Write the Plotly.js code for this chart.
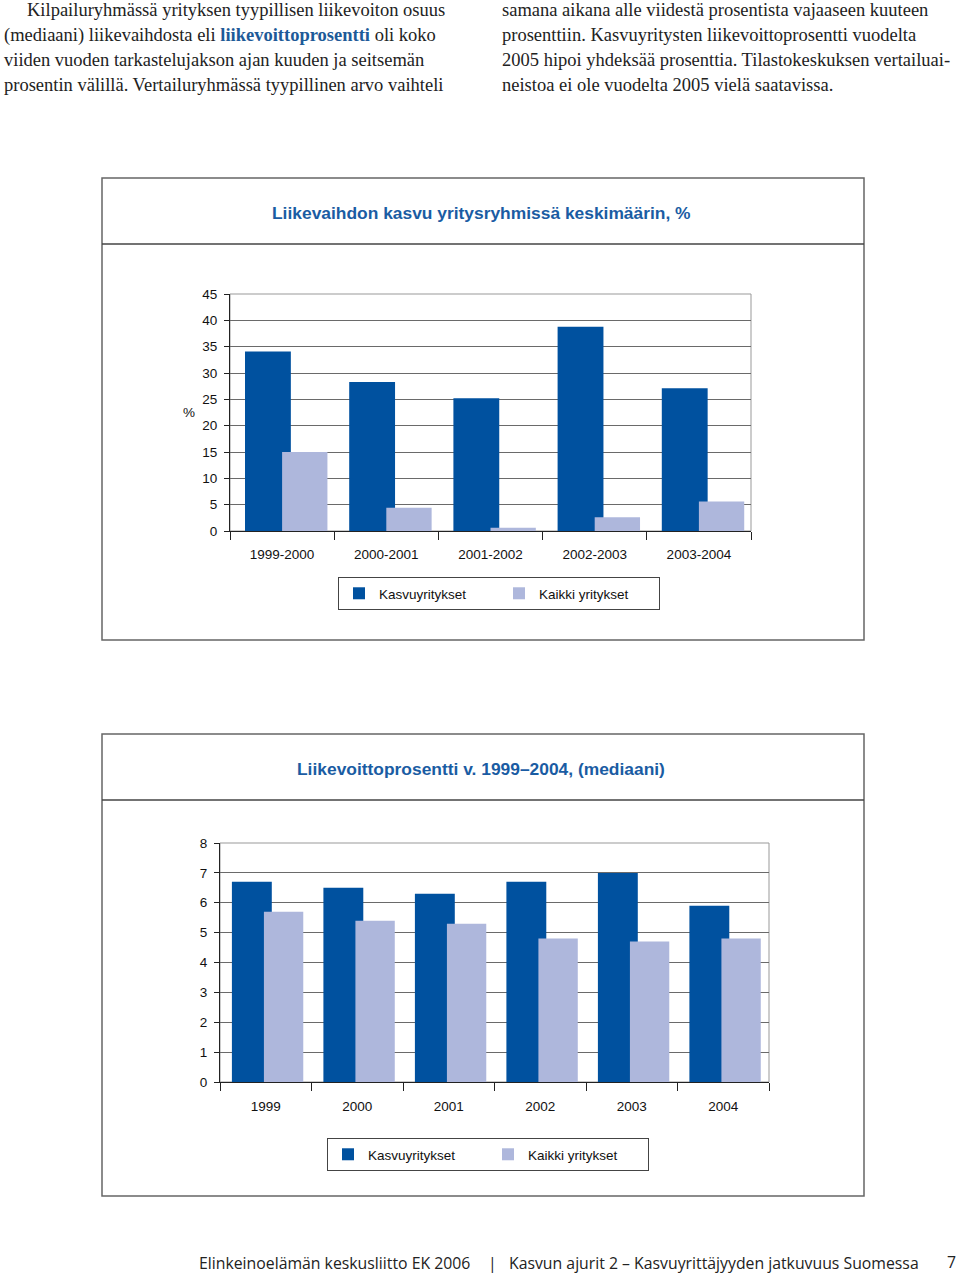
<!DOCTYPE html>
<html>
<head>
<meta charset="utf-8">
<script src="https://cdn.plot.ly/plotly-3.0.1.min.js"></script>
<style>
  body { margin: 0; background: #fff; }
  #page { position: relative; width: 960px; height: 1274px; overflow: hidden; }
  #plot { position: absolute; left: 0; top: 0; width: 960px; height: 1274px; }
  .col { position: absolute; top: -2px; font-family: "Liberation Serif", "Times New Roman", serif;
         font-size: 18.5px; line-height: 25px; color: #222; white-space: nowrap; }
  .col b { color: #1d5a98; }
  .foot { position: absolute; top: 1253px; font-family: "Open Sans", "DejaVu Sans", sans-serif;
          font-size: 15.8px; line-height: 20px; color: #222; white-space: nowrap; }
</style>
</head>
<body>
<div id="page">
  <div id="plot"></div>
  <div class="col" style="left:4px">
    <span style="padding-left:23px"></span>Kilpailuryhmässä yrityksen tyypillisen liikevoiton osuus<br>
    (mediaani) liikevaihdosta eli <b>liikevoittoprosentti</b> oli koko<br>
    viiden vuoden tarkastelujakson ajan kuuden ja seitsemän<br>
    prosentin välillä. Vertailuryhmässä tyypillinen arvo vaihteli
  </div>
  <div class="col" style="left:502px">
    samana aikana alle viidestä prosentista vajaaseen kuuteen<br>
    prosenttiin. Kasvuyritysten liikevoittoprosentti vuodelta<br>
    2005 hipoi yhdeksää prosenttia. Tilastokeskuksen vertailuai-<br>
    neistoa ei ole vuodelta 2005 vielä saatavissa.
  </div>
  <div class="foot" style="left:199px">Elinkeinoelämän keskusliitto EK 2006</div>
  <div class="foot" style="left:488px">|</div>
  <div class="foot" style="left:509px">Kasvun ajurit 2 – Kasvuyrittäjyyden jatkuvuus Suomessa</div>
  <div class="foot" style="left:947px; top:1254px; line-height:16px">7</div>
</div>
<script>
// chart 1: liikevaihdon kasvu
const periods = ["1999-2000", "2000-2001", "2001-2002", "2002-2003", "2003-2004"];
const growthKasvu = [34.1, 28.3, 25.2, 38.8, 27.1];
const growthKaikki = [15.0, 4.4, 0.6, 2.6, 5.6];

// chart 2: liikevoittoprosentti
const years = ["1999", "2000", "2001", "2002", "2003", "2004"];
const marginKasvu = [6.7, 6.5, 6.3, 6.7, 7.0, 5.9];
const marginKaikki = [5.7, 5.4, 5.3, 4.8, 4.7, 4.8];

const seriesNames = ["Kasvuyritykset", "Kaikki yritykset"];

const W = 960, H = 1274;
const px = x => x / W;
const py = y => 1 - y / H;

const DARK = "#00519f";
const LIGHT = "#aeb7dc";
const TITLE_BLUE = "#1a5ca3";
const tickFont = { family: "Liberation Sans, Arial, sans-serif", size: 13.5, color: "#111" };
const titleFont = { family: "Liberation Sans, Arial, sans-serif", size: 17.4, color: TITLE_BLUE, weight: "bold" };

function barTrace(x, y, name, color, offset, width, xa, ya, legend) {
  return {
    type: "bar", x, y, name,
    marker: { color, line: { width: 0 } },
    offset, width,
    xaxis: xa, yaxis: ya, legend,
    hoverinfo: "skip"
  };
}

const traces = [
  barTrace(periods, growthKasvu, seriesNames[0], DARK, -0.356, 0.44, "x", "y", "legend"),
  barTrace(periods, growthKaikki, seriesNames[1], LIGHT, 0.0, 0.435, "x", "y", "legend"),
  barTrace(years, marginKasvu, seriesNames[0], DARK, -0.37, 0.436, "x2", "y2", "legend2"),
  barTrace(years, marginKaikki, seriesNames[1], LIGHT, -0.02, 0.43, "x2", "y2", "legend2")
];

function xAxis(domain, anchor, standoff) {
  return {
    domain, anchor, type: "category",
    tickson: "boundaries", ticks: "outside", ticklen: 8, tickcolor: "#222",
    showline: true, linecolor: "#222", linewidth: 1,
    showgrid: false, zeroline: false,
    tickfont: tickFont, ticklabelstandoff: standoff, fixedrange: true
  };
}

function yAxis(domain, anchor, range, dtick) {
  return {
    domain, anchor, range, dtick,
    ticks: "outside", ticklen: 5, tickcolor: "#222",
    showline: true, linecolor: "#222", linewidth: 1,
    showgrid: true, gridcolor: "#6a6a6a", gridwidth: 1,
    zeroline: false, tickfont: tickFont, ticklabelstandoff: 4, fixedrange: true
  };
}

function box(y0, y1, yDiv) {
  return [
    { type: "rect", xref: "paper", yref: "paper", x0: px(102), x1: px(864), y0: py(y1), y1: py(y0),
      line: { color: "#666", width: 1.5 }, layer: "below" },
    { type: "line", xref: "paper", yref: "paper", x0: px(102), x1: px(864), y0: py(yDiv), y1: py(yDiv),
      line: { color: "#444", width: 1.5 } }
  ];
}

function plotBorder(xa, ya) {
  return { type: "rect", xref: xa + " domain", yref: ya + " domain", x0: 0, x1: 1, y0: 0, y1: 1,
    line: { color: "#999", width: 1 }, layer: "below" };
}

function legendAt(x, y) {
  return {
    x: px(x), y: py(y), xanchor: "left", yanchor: "top",
    orientation: "h", bgcolor: "#fff", bordercolor: "#444", borderwidth: 1,
    font: { family: tickFont.family, size: 13.5, color: "#111" },
    entrywidth: 115, itemwidth: 30, traceorder: "normal"
  };
}

const layout = {
  width: W, height: H,
  margin: { l: 0, r: 0, t: 0, b: 0 },
  paper_bgcolor: "#fff", plot_bgcolor: "#fff",
  barmode: "overlay",
  font: tickFont,
  xaxis: xAxis([px(230), px(751)], "y", 11),
  yaxis: yAxis([py(531), py(294)], "x", [0, 45], 5),
  xaxis2: xAxis([px(220), px(769)], "y2", 12),
  yaxis2: yAxis([py(1082), py(843)], "x2", [0, 8], 1),
  legend: legendAt(338, 577),
  legend2: legendAt(327, 1138),
  shapes: [
    ...box(178, 640, 244),
    ...box(734, 1196, 800),
    plotBorder("x", "y"),
    plotBorder("x2", "y2")
  ],
  annotations: [
    { text: "Liikevaihdon kasvu yritysryhmissä keskimäärin, %", xref: "paper", yref: "paper",
      x: px(481), y: py(213), xanchor: "center", yanchor: "middle", showarrow: false, font: titleFont },
    { text: "Liikevoittoprosentti v. 1999–2004, (mediaani)", xref: "paper", yref: "paper",
      x: px(481), y: py(769), xanchor: "center", yanchor: "middle", showarrow: false, font: titleFont },
    { text: "%", xref: "paper", yref: "paper", x: px(189), y: py(413),
      xanchor: "center", yanchor: "middle", showarrow: false, font: tickFont }
  ]
};

Plotly.newPlot("plot", traces, layout, { staticPlot: true, displayModeBar: false });
</script>
</body>
</html>
